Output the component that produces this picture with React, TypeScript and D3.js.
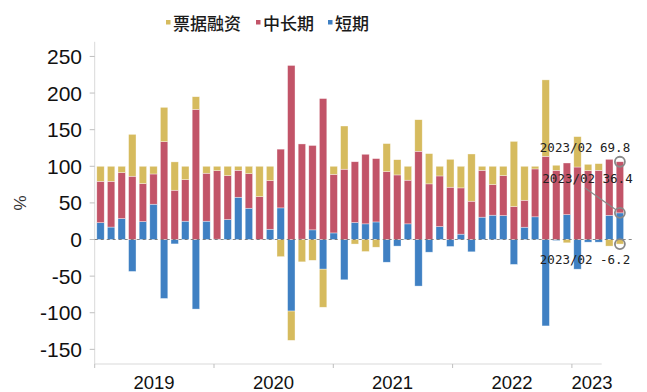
import React from "react";
import * as d3 from "d3";

// Monthly loan structure, 2019/01 – 2023/02 (% of new loans)
const months: string[] = [];
for (let y = 2019; y <= 2023; y++) {
  for (let m = 1; m <= 12; m++) {
    if (y === 2023 && m > 2) break;
    months.push(`${y}/${String(m).padStart(2, "0")}`);
  }
}

// 短期
const shortTerm = [
  23, 17, 28.6, -43.6, 24.5, 48.2, -80.5, -6, 25, -95, 25, 0.5,
  27.3, 57.7, 42.7, 0, 14, 43.2, -97.7, 0.5, 13.2, -40.5, 9, -55,
  23.2, 21.4, 24, -31, -9, 21.4, -63.6, -17.3, 17.7, -9.5, 7.3, -16.8,
  30.5, 33.2, 32.7, -34, 16.8, 31, -118, -1.4, 34, -40.5, -3.6, -3.6,
  33, 36.4,
];
// 中长期
const longTerm = [
  56.5, 62.5, 62.8, 86.4, 51.9, 41.3, 133.6, 67.3, 56.8, 177.7, 65.5, 93.5,
  60, 36.8, 47.3, 58.6, 66.5, 80.2, 237.7, 130, 115.2, 192.5, 80, 96,
  83, 95, 86.5, 92.7, 88.2, 59.6, 120.5, 76, 69.1, 71.4, 63.2, 52.3,
  64, 41.8, 54.6, 45, 36.8, 65.4, 113.6, 94.5, 70.5, 99, 94, 94.5,
  76.5, 69.8,
];
// 票据融资
const billFinancing = [
  20.5, 20.5, 8.6, 57.2, 23.6, 10.5, 46.9, 38.7, 18.2, 17.3, 9.5, 6,
  12.7, 5.5, 10, 41.4, 19.5, -23.4, -40, -30.5, -28.4, -52, 11, 59,
  -6.2, -16.4, -10.5, 38.3, 20.8, 19, 43.1, 41.3, 13.2, 38.1, 29.5, 64.5,
  5.5, 25, 12.7, 89, 46.4, 3.6, 104.4, 6.9, -4.5, 41.5, 8.7, 9.1,
  -9, -6.2,
];

const seriesKeys = ["短期", "中长期", "票据融资"];
const legendKeys = ["票据融资", "中长期", "短期"];
const colors: Record<string, string> = {
  票据融资: "#D6BB5E",
  中长期: "#C25468",
  短期: "#3F80C3",
};

const yTicks = [-150, -100, -50, 0, 50, 100, 150, 200, 250];
const yearLabels = ["2019", "2020", "2021", "2022", "2023"];

const W = 647;
const H = 392;

export default function App() {
  const rows = months.map((m, i) => ({
    month: m,
    短期: shortTerm[i],
    中长期: longTerm[i],
    票据融资: billFinancing[i],
  }));

  const stack = d3
    .stack<any>()
    .keys(seriesKeys)
    .offset(d3.stackOffsetDiverging);
  const layers = stack(rows);

  const x = d3
    .scaleBand<string>()
    .domain(months)
    .range([95.2, 625.2])
    .paddingInner(0.3)
    .paddingOuter(0.15);

  const y = d3.scaleLinear().domain([-170, 270]).range([364, 41.8]);

  const axisLeft = 94.7;
  const axisRight = 601.7;
  const yearStep = 119.3;
  const yearTicks = d3.range(5).map((k) => axisLeft + k * yearStep);
  const yearLabelX = [154, 273.5, 392.5, 512, 592];

  const last = rows.length - 1;
  const lastX = (x(months[last]) ?? 0) + x.bandwidth() / 2;
  const lastMonth = months[last];
  const redTop = shortTerm[last] > 0 ? shortTerm[last] + longTerm[last] : longTerm[last];
  const markers = [
    { v: redTop, label: `${lastMonth} ${longTerm[last].toFixed(1)}`, lx: 585, ly: 147 },
    { v: shortTerm[last], label: `${lastMonth} ${shortTerm[last].toFixed(1)}`, lx: 587.5, ly: 178.5 },
    { v: billFinancing[last], label: `${lastMonth} ${billFinancing[last].toFixed(1)}`, lx: 585, ly: 259 },
  ];

  const legendPos: Record<string, number> = { 票据融资: 166, 中长期: 256, 短期: 328 };

  return (
    <svg
      width={W}
      height={H}
      style={{ position: "absolute", left: 0, top: 0, background: "#fff" }}
    >
      {/* legend */}
      {legendKeys.map((k) => (
        <g key={k}>
          <rect x={legendPos[k]} y={20} width={4.5} height={4.5} fill={colors[k]} />
          <text
            x={legendPos[k] + 7}
            y={22.5}
            dominantBaseline="central"
            fontFamily="'Noto Sans CJK SC'"
            fontSize={17}
            fontWeight={500}
            fill="#1a1a1a"
          >
            {k}
          </text>
        </g>
      ))}

      {/* y axis */}
      <line x1={axisLeft} x2={axisLeft} y1={41.8} y2={364} stroke="#d9d9d9" strokeWidth={1} />
      {yTicks.map((t) => (
        <g key={t}>
          <line x1={axisLeft - 5} x2={axisLeft} y1={y(t)} y2={y(t)} stroke="#bfbfbf" />
          <text
            x={82}
            y={y(t)}
            textAnchor="end"
            dominantBaseline="central"
            fontFamily="'Liberation Sans', Arial, sans-serif"
            fontSize={21}
            fill="#111"
          >
            {t}
          </text>
        </g>
      ))}
      <text
        x={20}
        y={203}
        transform="rotate(-90 20 203)"
        textAnchor="middle"
        dominantBaseline="central"
        fontFamily="'Liberation Sans', Arial, sans-serif"
        fontSize={17}
        fill="#333"
      >
        %
      </text>

      {/* bars */}
      {layers.map((layer) => (
        <g key={layer.key} fill={colors[layer.key]}>
          {layer.map((d, i) => {
            const y0 = y(Math.max(d[0], d[1]));
            const y1 = y(Math.min(d[0], d[1]));
            return (
              <rect
                key={i}
                x={x(rows[i].month)}
                y={y0}
                width={x.bandwidth()}
                height={Math.max(0, y1 - y0)}
                stroke="#ffffff"
                strokeOpacity={0.6}
                strokeWidth={0.6}
              />
            );
          })}
        </g>
      ))}

      {/* zero line */}
      <line
        x1={axisLeft}
        x2={633}
        y1={y(0)}
        y2={y(0)}
        stroke="#555"
        strokeOpacity={0.7}
        strokeWidth={1}
        strokeDasharray="3,3"
      />

      {/* x axis */}
      <line x1={axisLeft} x2={axisRight} y1={364} y2={364} stroke="#d9d9d9" />
      {yearTicks.map((tx, i) => (
        <line key={i} x1={tx} x2={tx} y1={364} y2={368} stroke="#bfbfbf" />
      ))}
      {yearLabels.map((lab, i) => (
        <text
          key={lab}
          x={yearLabelX[i]}
          y={389}
          textAnchor="middle"
          fontFamily="'Liberation Sans', Arial, sans-serif"
          fontSize={18.5}
          fill="#111"
        >
          {lab}
        </text>
      ))}

      {/* last-month callouts */}
      <line x1={585} x2={lastX - 4} y1={188} y2={y(shortTerm[last]) - 3} stroke="#888" strokeWidth={1.2} />
      {markers.map((m, i) => (
        <g key={i}>
          <circle cx={lastX} cy={y(m.v)} r={5} fill="none" stroke="#888" strokeWidth={1.8} />
          <text
            x={m.lx}
            y={m.ly}
            textAnchor="middle"
            dominantBaseline="central"
            fontFamily="'DejaVu Sans Mono', monospace"
            fontSize={12.5}
            fill="#222"
          >
            {m.label}
          </text>
        </g>
      ))}
    </svg>
  );
}
